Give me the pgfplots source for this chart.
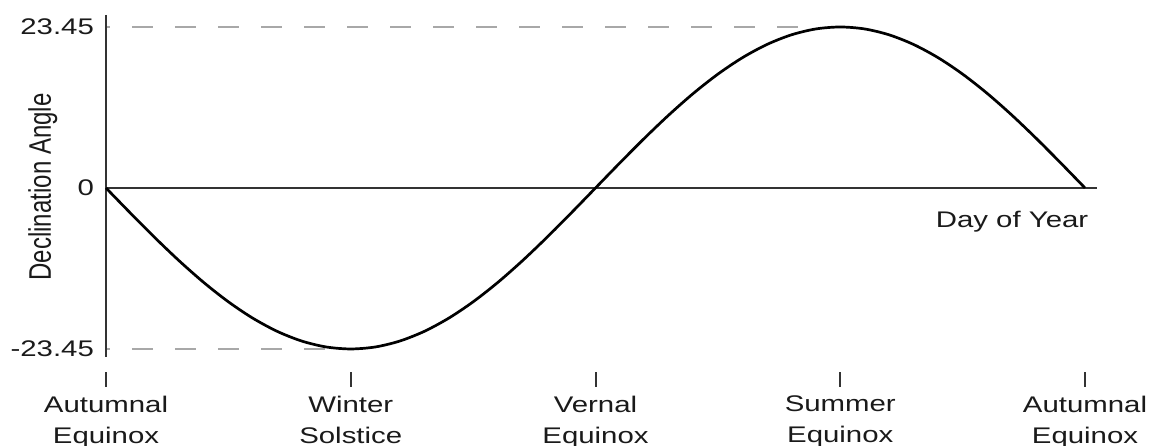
\documentclass[border=0pt]{standalone}
\usepackage{pgfplots}
\pgfplotsset{compat=1.18}
\usepackage{fontspec}
\usepackage{graphicx}
\setmainfont{Liberation Sans}[FakeStretch=1.3]
\newfontfamily\ylabfont{Liberation Sans}
\definecolor{axgray}{HTML}{333333}
\definecolor{dashgray}{HTML}{A8A8A8}
\definecolor{txt}{HTML}{1A1A1A}
\begin{document}
\begin{tikzpicture}
\begin{axis}[
  scale only axis, width=495.5pt, height=178.5pt,
  xmin=0, xmax=4.049, ymin=-26.8, ymax=25.2,
  axis x line=bottom, axis y line=left,
  axis line style={draw=none},
  clip=false,
  tick align=outside,
  major tick length=7.5pt,
  xtick={0,1,2,3,4},
  xticklabels={{Autumnal\\Equinox},{Winter\\Solstice},{Vernal\\Equinox},{Summer\\Equinox},{Autumnal\\Equinox}},
  x tick label style={align=center, text=txt, yshift=-1pt, font=\fontsize{11.3}{15.5}\selectfont},
  x tick style={draw=axgray, line width=1pt},
  ytick={-23.45,0,23.45},
  yticklabels={-23.45,0,23.45},
  y tick style={draw=none},
  y tick label style={text=txt, xshift=5pt, font=\fontsize{11.3}{13}\selectfont},
]
% dashed reference lines
\addplot[dashgray, line width=1pt, dash pattern=on 10.5pt off 11pt, dash phase=8.5pt] coordinates {(0,23.45) (2.889,23.45)};
\addplot[dashgray, line width=1pt, dash pattern=on 10.5pt off 11pt, dash phase=8.5pt] coordinates {(0,-23.45) (0.903,-23.45)};
% axis lines
\addplot[axgray, line width=1.2pt] coordinates {(0,0) (4.049,0)};
\addplot[axgray, line width=1.4pt] coordinates {(0,25.2) (0,-24.6)};
% declination curve
\addplot[black, line width=1.35pt, smooth] coordinates {
(0.0,0) (0.1,-3.668) (0.2,-7.247) (0.3,-10.646) (0.4,-13.784) (0.5,-16.582)
(0.6,-18.971) (0.7,-20.894) (0.8,-22.302) (0.9,-23.161) (1.0,-23.45)
(1.1,-23.161) (1.2,-22.302) (1.3,-20.894) (1.4,-18.971) (1.5,-16.582)
(1.6,-13.784) (1.7,-10.646) (1.8,-7.247) (1.9,-3.668) (2.0,0)
(2.1,3.668) (2.2,7.247) (2.3,10.646) (2.4,13.784) (2.5,16.582)
(2.6,18.971) (2.7,20.894) (2.8,22.302) (2.9,23.161) (3.0,23.45)
(3.1,23.161) (3.2,22.302) (3.3,20.894) (3.4,18.971) (3.5,16.582)
(3.6,13.784) (3.7,10.646) (3.8,7.247) (3.9,3.668) (4.0,0)
};
\node[anchor=base, text=txt, font=\fontsize{11.3}{13}\selectfont] at (axis cs:3.702,-5.83) {Day of Year};
\node[text=txt] at (axis cs:-0.2580,0.15) {\rotatebox{90}{\scalebox{1}[1.3]{\ylabfont\fontsize{12}{14}\selectfont Declination Angle}}};
\coordinate (bbTL) at (axis cs:-0.43309,27.381);
\coordinate (bbBR) at (axis cs:4.29009,-37.577);
\end{axis}
\pgfresetboundingbox
\path[use as bounding box] (bbTL) rectangle (bbBR);
\end{tikzpicture}
\end{document}
